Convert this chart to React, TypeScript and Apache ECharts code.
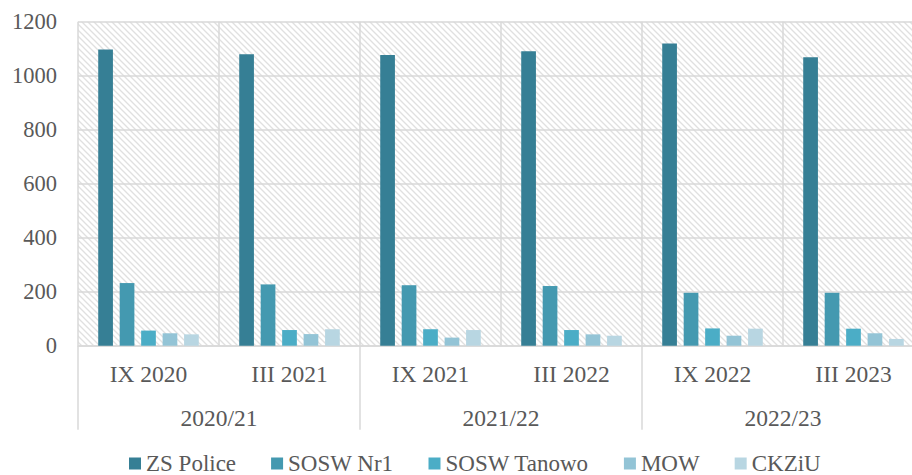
import React, { useEffect, useRef } from "react";
import * as echarts from "echarts";

const categories = ["IX 2020", "III 2021", "IX 2021", "III 2022", "IX 2022", "III 2023"];
const groups = ["2020/21", "2021/22", "2022/23"];
const seriesNames = ["ZS Police", "SOSW Nr1", "SOSW Tanowo", "MOW", "CKZiU"];
const zsPolice = [1097, 1079, 1077, 1091, 1119, 1068];
const soswNr1 = [232, 227, 224, 221, 196, 196];
const soswTanowo = [56, 58, 61, 58, 64, 63];
const mow = [46, 43, 30, 42, 37, 46];
const ckziu = [42, 61, 58, 37, 63, 25];
const yTicks = { min: 0, max: 1200, interval: 200 };

const colors = ["#367f95", "#4499b0", "#4badc6", "#93c4d6", "#b8d6e2"];
const FONT = "'Liberation Serif', 'Times New Roman', serif";
const TXT = "#595959";
const GRIDC = "#d9d9d9";

const hatchSvg =
  "data:image/svg+xml;utf8," +
  encodeURIComponent(
    "<svg xmlns='http://www.w3.org/2000/svg' width='6' height='6'>" +
      "<rect width='6' height='6' fill='#ffffff'/>" +
      "<path d='M-1,-1 L7,7 M-1,5 L1,7 M5,-1 L7,1' stroke='#e0e0e0' stroke-width='1.3'/>" +
      "</svg>"
  );

export default function App() {
  const ref = useRef<HTMLDivElement>(null);
  useEffect(() => {
    if (!ref.current) return;
    const chart = echarts.init(ref.current, undefined, { renderer: "svg" });
    const values = [zsPolice, soswNr1, soswTanowo, mow, ckziu];
    chart.setOption({
      animation: false,
      grid: {
        left: 78,
        right: -12,
        top: 21.7,
        bottom: 129.3,
        outerBoundsMode: "none",
        containLabel: false,
        show: true,
        borderWidth: 0,
        backgroundColor: {
          image: hatchSvg,
          repeat: "repeat",
          imageWidth: 6,
          imageHeight: 6,
        },
      },
      legend: {
        data: seriesNames,
        left: 129,
        top: 452,
        padding: 0,
        icon: "rect",
        itemWidth: 12,
        itemHeight: 12,
        itemGap: 35,
        textStyle: {
          fontFamily: FONT,
          fontSize: 23,
          color: TXT,
          padding: [0, 0, 0, 0],
        },
      },
      xAxis: [
        {
          type: "category",
          data: categories,
          position: "bottom",
          axisLine: { show: true, lineStyle: { color: GRIDC, width: 1.5 } },
          axisTick: { show: false },
          splitLine: { show: true, interval: 0, lineStyle: { color: GRIDC, width: 1.5 } },
          axisLabel: { interval: 0, margin: 16, fontFamily: FONT, fontSize: 23.5, color: TXT },
        },
        {
          type: "category",
          data: groups,
          position: "bottom",
          axisLine: { show: false },
          axisTick: { show: true, interval: 0, length: 84, lineStyle: { color: GRIDC, width: 1.5 } },
          splitLine: { show: false },
          axisLabel: { interval: 0, margin: 60, fontFamily: FONT, fontSize: 23.5, color: TXT },
        },
      ],
      yAxis: {
        type: "value",
        min: yTicks.min,
        max: yTicks.max,
        interval: yTicks.interval,
        axisLine: { show: false },
        axisTick: { show: false },
        splitLine: { show: true, lineStyle: { color: GRIDC, width: 1.5 } },
        axisLabel: {
          margin: 21,
          fontFamily: FONT,
          fontSize: 22.5,
          color: TXT,
          formatter: (v: number) => String(v),
        },
      },
      series: seriesNames.map((name, i) => ({
        name,
        type: "bar",
        xAxisIndex: 0,
        data: values[i],
        barWidth: 14.7,
        barGap: "46%",
        itemStyle: { color: colors[i] },
      })),
    });
    return () => chart.dispose();
  }, []);
  return (
    <div
      ref={ref}
      style={{ position: "fixed", left: 0, top: 0, width: 912, height: 475, background: "#fff" }}
    />
  );
}
